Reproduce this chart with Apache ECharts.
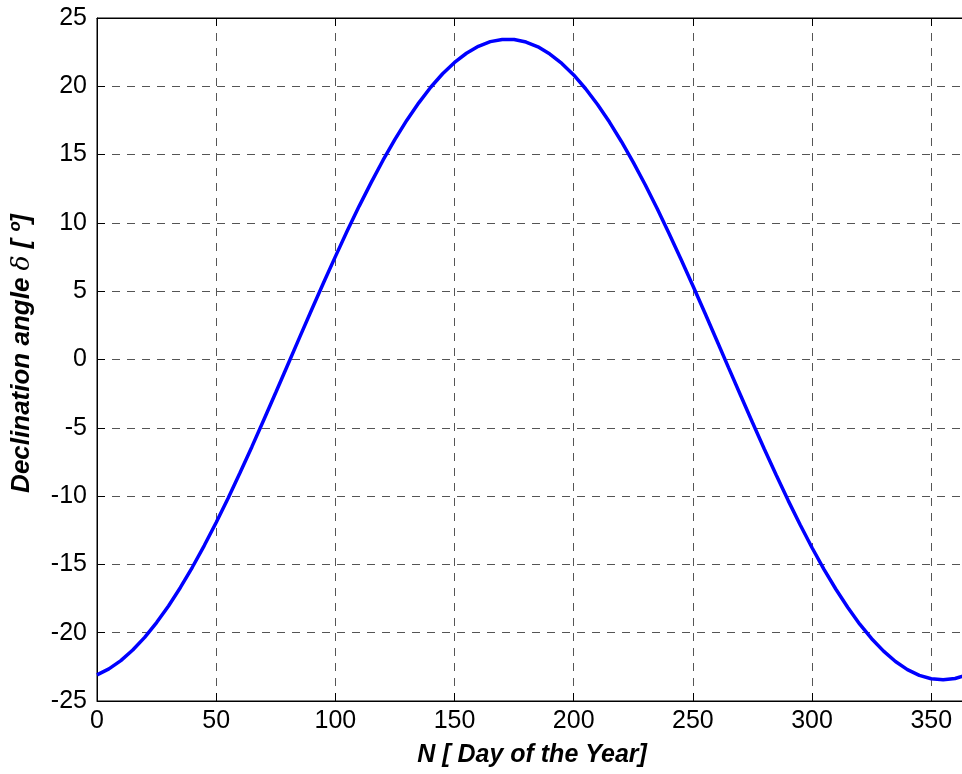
<!DOCTYPE html>
<html>
<head>
<meta charset="utf-8">
<script src="https://cdn.jsdelivr.net/npm/echarts@6/dist/echarts.min.js"></script>
<style>
  html, body { margin: 0; padding: 0; background: #fff; overflow: hidden; }
  #chart { width: 968px; height: 774px; }
</style>
</head>
<body>
<div id="chart"></div>
<script>
// Day of the year (N) and solar declination angle in degrees
const days = [0, 5, 10, 15, 20, 25, 30, 35, 40, 45, 50, 55, 60, 65, 70, 75, 80, 85, 90, 95,
  100, 105, 110, 115, 120, 125, 130, 135, 140, 145, 150, 155, 160, 165, 170, 175, 180, 185, 190, 195,
  200, 205, 210, 215, 220, 225, 230, 235, 240, 245, 250, 255, 260, 265, 270, 275, 280, 285, 290, 295,
  300, 305, 310, 315, 320, 325, 330, 335, 340, 345, 350, 355, 360, 365];
const declination = [-23.09, -22.65, -22.04, -21.27, -20.34, -19.26, -18.04, -16.69, -15.21, -13.62,
  -11.93, -10.15, -8.29, -6.38, -4.41, -2.42, -0.40, 1.62, 3.62, 5.60,
  7.53, 9.42, 11.23, 12.95, 14.59, 16.11, 17.52, 18.79, 19.93, 20.92,
  21.75, 22.42, 22.93, 23.27, 23.43, 23.42, 23.24, 22.89, 22.36, 21.67,
  20.83, 19.82, 18.67, 17.38, 15.96, 14.43, 12.79, 11.05, 9.23, 7.34,
  5.40, 3.42, 1.41, -0.61, -2.62, -4.61, -6.57, -8.48, -10.33, -12.10,
  -13.78, -15.36, -16.82, -18.16, -19.38, -20.44, -21.35, -22.11, -22.70, -23.12,
  -23.37, -23.45, -23.35, -23.09];

const xLabel = 'N [ Day of the Year]';
const yLabelMain = 'Declination angle ';
const yLabelSym = 'δ';
const yLabelUnit = ' [ º]';

const font = '"Liberation Sans", Arial, sans-serif';
const gridDash = { type: [8, 7], color: '#555', width: 1 };
const tickStyle = { show: true, inside: true, length: 8, lineStyle: { color: '#000' } };

const chart = echarts.init(document.getElementById('chart'), null, { renderer: 'canvas' });
chart.setOption({
  animation: false,
  backgroundColor: '#fff',
  grid: {
    left: 97, right: 1, top: 18, bottom: 73,
    show: true, borderColor: '#000', borderWidth: 1, backgroundColor: 'transparent'
  },
  xAxis: [{
    type: 'value', min: 0, max: 365, interval: 50,
    name: xLabel, nameLocation: 'middle', nameGap: 42,
    nameTextStyle: { fontFamily: font, fontSize: 25, fontWeight: 'bold', fontStyle: 'italic', color: '#000' },
    axisLine: { show: true, onZero: false, lineStyle: { color: '#000', width: 1 } },
    axisTick: tickStyle,
    axisLabel: { fontFamily: font, fontSize: 25, color: '#000', margin: 8, showMaxLabel: false },
    splitLine: { show: true, lineStyle: gridDash }
  }, {
    type: 'value', min: 0, max: 365, interval: 50, position: 'top',
    axisLine: { show: true, onZero: false, lineStyle: { color: '#000', width: 1 } },
    axisTick: tickStyle,
    axisLabel: { show: false },
    splitLine: { show: false }
  }],
  yAxis: {
    type: 'value', min: -25, max: 25, interval: 5,
    name: '{m|' + yLabelMain + '}{s|' + yLabelSym + '}{m|' + yLabelUnit + '}',
    nameLocation: 'middle', nameGap: 62,
    nameTextStyle: {
      padding: [0, 0, 0, 12],
      rich: {
        m: { fontFamily: font, fontSize: 26, fontWeight: 'bold', fontStyle: 'italic', color: '#000' },
        s: { fontFamily: '"DejaVu Serif", serif', fontSize: 25, fontStyle: 'italic', color: '#000' }
      }
    },
    axisLine: { show: true, onZero: false, lineStyle: { color: '#000', width: 1 } },
    axisTick: tickStyle,
    axisLabel: { fontFamily: font, fontSize: 25, color: '#000', margin: 10 },
    splitLine: { show: true, lineStyle: gridDash }
  },
  series: [{
    type: 'line',
    xAxisIndex: 0,
    data: days.map((d, i) => [d, declination[i]]),
    showSymbol: false,
    smooth: false,
    lineStyle: { color: '#0000ff', width: 3.5 },
    itemStyle: { color: '#0000ff' }
  }]
});
</script>
</body>
</html>
